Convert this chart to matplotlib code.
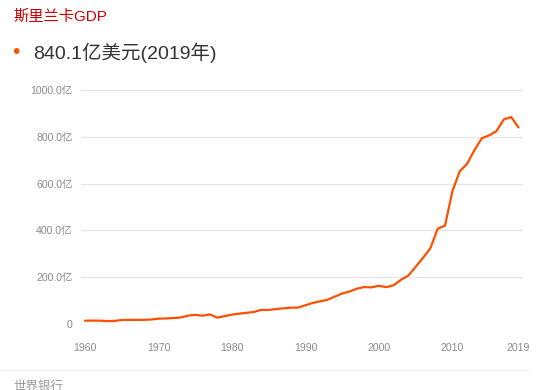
import matplotlib
matplotlib.use('Agg')
import matplotlib.pyplot as plt
from matplotlib.ticker import FuncFormatter

plt.rcParams['font.family'] = ['Liberation Sans', 'Noto Sans CJK SC', 'DejaVu Sans']

# GDP of Sri Lanka, 亿美元
years = list(range(1960, 2020))
gdp = [14.1, 14.4, 14.3, 12.4, 13.1, 17.0, 17.5, 17.7, 17.8, 19.2,
       22.9, 23.7, 25.5, 27.8, 35.4, 39.0, 35.3, 41.0, 27.3, 33.6,
       40.2, 44.2, 47.7, 51.7, 60.4, 59.8, 64.1, 66.8, 69.8, 69.9,
       80.3, 90.0, 97.0, 103.4, 117.2, 130.3, 139.0, 150.9, 157.9, 156.6,
       163.3, 157.5, 165.4, 188.8, 206.6, 244.1, 282.8, 323.5, 407.1, 420.7,
       567.3, 652.9, 684.3, 742.9, 793.6, 806.0, 824.0, 874.3, 884.3, 840.1]
x_ticks = [1960, 1970, 1980, 1990, 2000, 2010, 2019]
y_ticks = [0, 200, 400, 600, 800, 1000]

W, H = 544, 390
fig = plt.figure(figsize=(W / 100, H / 100), dpi=100)

# axes box in pixel coords: x 81..523, y 90..324
ax = fig.add_axes([81 / W, (H - 324) / H, (523 - 81) / W, (324 - 90) / H])
ax.plot(years, gdp, color='#ff4f00', lw=1.6, solid_capstyle='round',
        solid_joinstyle='round')

ax.set_xlim(1960 - 4 / 7.35, 2019 + 4.5 / 7.35)
ax.set_ylim(0, 1000)
ax.set_xticks(x_ticks)
ax.set_yticks(y_ticks)
ax.yaxis.set_major_formatter(FuncFormatter(lambda v, p: '0' if v == 0 else f'{v:.1f}亿'))
ax.grid(axis='y', color='#e6e6e6', lw=0.9)
ax.set_axisbelow(True)
for s in ax.spines.values():
    s.set_visible(False)
ax.tick_params(length=0, labelsize=7.6, colors='#8a8a8a')
ax.tick_params(axis='y', pad=6)
ax.tick_params(axis='x', pad=14)

# header
fig.text(13 / W, 1 - 17 / H, '斯里兰卡GDP', color='#cc0000', fontsize=11, va='center')
fig.text(16 / W, 1 - 53 / H, '•', color='#ff4f00', fontsize=15, va='center', ha='center')
fig.text(33 / W, 1 - 53 / H, '840.1亿美元(2019年)', color='#333333', fontsize=14, va='center')

# bottom separator and source text
fig.add_artist(plt.Line2D([0, 528 / W], [1 - 370 / H, 1 - 370 / H], color='#eeeeee', lw=0.9))
fig.text(13 / W, 1 - 380 / H, '世界银行', color='#999999', fontsize=9, va='top')

fig.savefig('out.png', dpi=100)
